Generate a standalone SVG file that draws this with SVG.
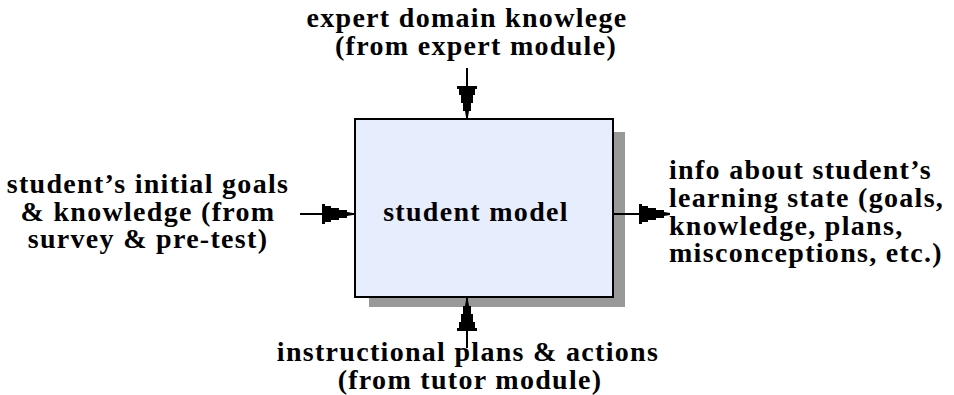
<svg xmlns="http://www.w3.org/2000/svg" width="954" height="395" viewBox="0 0 954 395">
  <style>
    .lbl { font-family: "Liberation Serif", "Times New Roman", serif; font-weight: bold; font-size: 28px; letter-spacing: 1.3px; fill: #000; }
    .mid { text-anchor: middle; }
    .wire { stroke: #000; stroke-width: 2; fill: none; }
    .head { fill: #000; }
  </style>
  <defs>
    <!-- stepped arrowhead, tip at origin, pointing along +y -->
    <polygon id="head" class="head" points="-10,-31 10,-31 10,-28 8,-28 8,-22 6,-22 6,-14 4,-14 4,-6 2,-6 1,0 -1,0 -2,-6 -4,-6 -4,-14 -6,-14 -6,-22 -8,-22 -8,-28 -10,-28"/>
  </defs>
  <rect width="954" height="395" fill="#fff"/>

  <!-- central process box with drop shadow -->
  <g id="student-model">
    <rect x="369" y="132" width="256" height="175" fill="#999"/>
    <rect x="355" y="119" width="258" height="178" fill="#e6edfc" stroke="#000" stroke-width="2"/>
    <text class="lbl mid" x="476" y="221">student model</text>
  </g>

  <!-- inputs and outputs -->
  <g id="connectors">
    <line class="wire" x1="467" y1="68" x2="467" y2="119"/>
    <use href="#head" transform="translate(467,117)"/>
    <line class="wire" x1="300" y1="214" x2="355" y2="214"/>
    <use href="#head" transform="translate(353,214) rotate(-90)"/>
    <line class="wire" x1="613" y1="214" x2="668" y2="214"/>
    <use href="#head" transform="translate(670,214) rotate(-90)"/>
    <line class="wire" x1="467" y1="348" x2="467" y2="297"/>
    <use href="#head" transform="translate(467,300) rotate(180)"/>
  </g>

  <g id="expert-input">
    <text class="lbl mid" x="467" y="27">expert domain knowlege</text>
    <text class="lbl mid" x="476" y="55">(from expert module)</text>
  </g>

  <g id="student-input">
    <text class="lbl mid" x="148" y="193">student’s initial goals</text>
    <text class="lbl mid" x="148" y="221">&amp; knowledge (from</text>
    <text class="lbl mid" x="148" y="248">survey &amp; pre-test)</text>
  </g>

  <g id="learning-state-output">
    <text class="lbl" x="669" y="179">info about student’s</text>
    <text class="lbl" x="669" y="207">learning state (goals,</text>
    <text class="lbl" x="669" y="235">knowledge, plans,</text>
    <text class="lbl" x="669" y="262">misconceptions, etc.)</text>
  </g>

  <g id="tutor-input">
    <text class="lbl mid" x="468" y="361">instructional plans &amp; actions</text>
    <text class="lbl mid" x="470" y="389">(from tutor module)</text>
  </g>
</svg>
